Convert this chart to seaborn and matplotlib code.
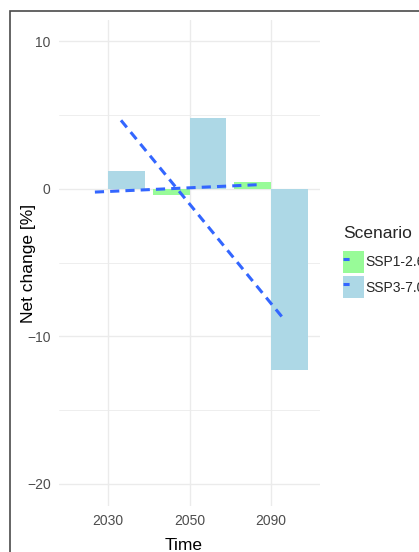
import numpy as np
import pandas as pd
import seaborn as sns
import matplotlib
matplotlib.use("Agg")
import matplotlib.pyplot as plt
from matplotlib.patches import Patch, Rectangle
from matplotlib.lines import Line2D
from matplotlib.legend_handler import HandlerTuple

# ---- data ----
times = ["2030", "2050", "2090"]
scenarios = ["SSP1-2.6", "SSP3-7.0"]
ssp1_values = [0.0, -0.4, 0.5]
ssp3_values = [1.2, 4.8, -12.3]
y_ticks = [10, 0, -10, -20]

bar_colors = {"SSP1-2.6": "#98FB98", "SSP3-7.0": "#ADD8E6"}
line_color = "#3366FF"

df = pd.DataFrame({
    "Time": times * 2,
    "Scenario": [scenarios[0]] * 3 + [scenarios[1]] * 3,
    "Net change": ssp1_values + ssp3_values,
})

sns.set_theme(style="whitegrid")
plt.rcParams["font.family"] = ["Liberation Sans", "DejaVu Sans"]

fig = plt.figure(figsize=(4.19, 5.52), dpi=100)
ax = fig.add_axes([59 / 419, 1 - 506 / 552, 261 / 419, 486 / 552])

sns.barplot(data=df, x="Time", y="Net change", hue="Scenario", order=times,
            hue_order=scenarios, palette=bar_colors, width=0.9, ax=ax,
            errorbar=None, saturation=1, legend=False, linewidth=0)

# linear trend lines (dodged)
offsets = {"SSP1-2.6": -0.16, "SSP3-7.0": 0.16}
dash = (3, 2)
lw = 2.2
for sc, vals in zip(scenarios, [ssp1_values, ssp3_values]):
    xs = np.arange(len(times)) + offsets[sc]
    sns.regplot(x=xs, y=np.array(vals), ax=ax, scatter=False, ci=None,
                truncate=True,
                line_kws=dict(color=line_color, lw=lw, dashes=dash))

ax.set_xlim(-0.6, 2.6)
ax.set_ylim(-21.5, 11.45)
ax.set_yticks(y_ticks)
ax.set_xticks(range(len(times)))
ax.set_xticklabels(times)

# grid
ax.set_axisbelow(True)
ax.set_yticks([5, -5, -15], minor=True)
ax.grid(True, which="major", axis="both", color="#EBEBEB", lw=1.0)
ax.grid(True, which="minor", axis="y", color="#EBEBEB", lw=0.6)
ax.xaxis.grid(True, which="major", color="#EBEBEB", lw=1.0)

for s in ax.spines.values():
    s.set_visible(False)
ax.tick_params(axis="both", which="both", length=0, labelsize=10,
               labelcolor="#4D4D4D", pad=6)

ax.set_xlabel("Time", fontsize=12.5, color="black", va="baseline")
ax.xaxis.set_label_coords((184 - 59) / 261, (506 - 550) / 486)
ax.set_ylabel("Net change [%]", fontsize=12.5, color="black", va="baseline")
ax.yaxis.set_label_coords((33 - 59) / 261, 0.5)

# legend
handles = []
for sc in scenarios:
    handles.append((Patch(facecolor=bar_colors[sc], edgecolor="none"),
                    Line2D([0], [0], color=line_color, lw=lw, dashes=(2, 20))))
leg = fig.legend(handles, scenarios, title="Scenario",
                 handler_map={tuple: HandlerTuple(ndivide=1, pad=0)},
                 loc="upper left", bbox_to_anchor=(332 / 419, 1 - 215 / 552),
                 frameon=False, fontsize=10, title_fontsize=12.5,
                 handlelength=1.5, handleheight=2.1, handletextpad=0.1,
                 labelspacing=0.2, borderpad=0.3)
leg._legend_box.align = "left"
leg._legend_box.sep = 7

# outer border
fig.patches.append(Rectangle((10 / 419, -0.5), 2, 1.5 - 11 / 552,
                             transform=fig.transFigure, fill=False,
                             edgecolor="#4a4a4a", lw=1.2, zorder=10))

fig.savefig("out.png", dpi=100)
